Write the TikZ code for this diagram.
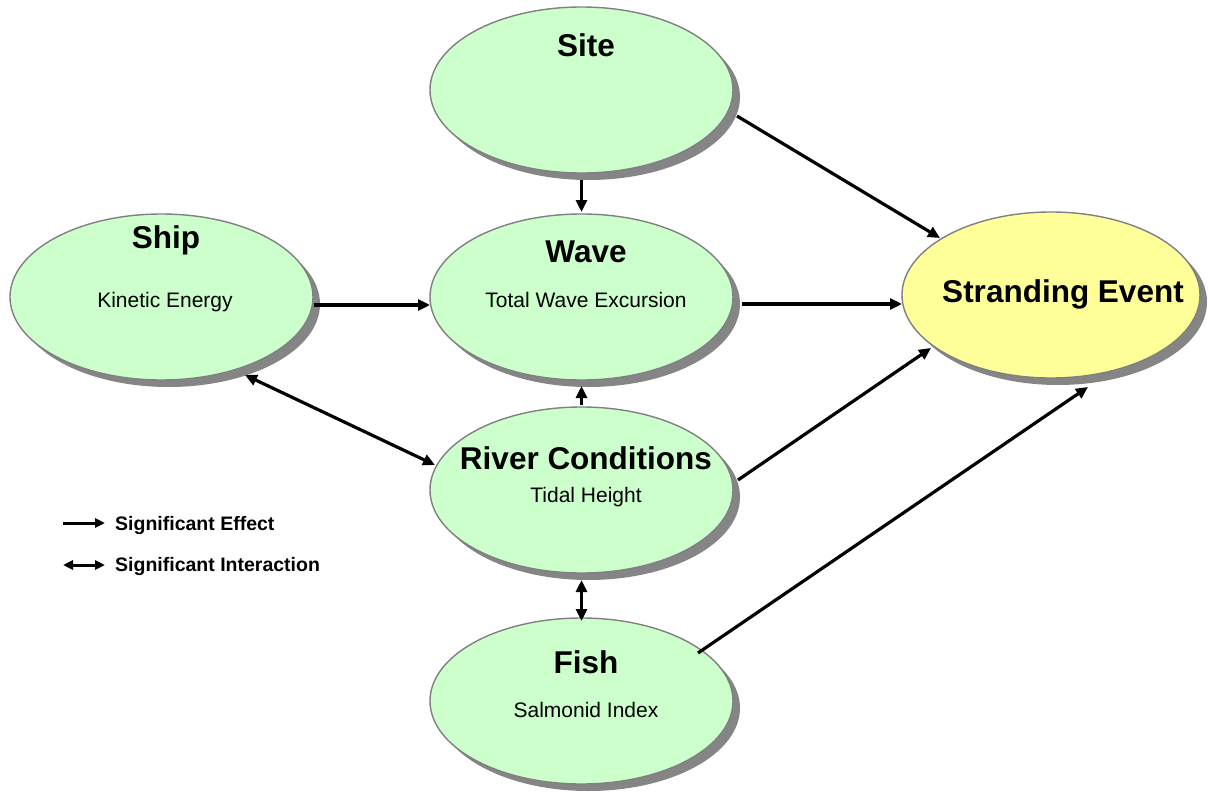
\documentclass[tikz,border=0pt]{standalone}
\usepackage{fontspec}
\setmainfont{Liberation Sans}
\usetikzlibrary{shapes.geometric,shadows,arrows.meta,calc}
\definecolor{nodegreen}{HTML}{CCFFCC}
\definecolor{nodeyellow}{HTML}{FFFF99}
\definecolor{rimgray}{HTML}{808080}
\definecolor{shadegray}{HTML}{858585}
\tikzset{
  oval/.style={ellipse, draw=rimgray, line width=1.4pt, fill=nodegreen,
    minimum width=303pt, minimum height=166pt, inner sep=0pt,
    drop shadow={shadow xshift=7pt, shadow yshift=-7pt, fill=shadegray, opacity=1}},
  goal/.style={oval, fill=nodeyellow, minimum width=298pt},
  title/.style={anchor=base, inner sep=0pt, font=\fontsize{31.5}{36}\selectfont\bfseries},
  sub/.style={anchor=base, inner sep=0pt, font=\fontsize{21}{25}\selectfont},
  legtext/.style={anchor=base west, inner sep=0pt, font=\fontsize{19.5}{23}\selectfont\bfseries},
  eff/.style={line width=3.2pt, -{Triangle[length=12pt,width=11pt]}},
  inter/.style={line width=3.2pt, {Triangle[length=12pt,width=11pt]}-{Triangle[length=12pt,width=11pt]}},
  legeff/.style={line width=3pt, -{Triangle[length=10pt,width=9pt]}},
  leginter/.style={line width=3pt, {Triangle[length=10pt,width=9pt]}-{Triangle[length=10pt,width=9pt]}}
}
\begin{document}
\begin{tikzpicture}[x=1pt, y=-1pt]
\useasboundingbox (0,0) rectangle (1208,797);
% ellipses
\node[oval] (site) at (581.5,90) {};
\node[oval] (wave) at (581.5,297) {};
\node[oval] (ship) at (161.5,297) {};
\node[oval] (river) at (581.5,490) {};
\node[oval] (fish) at (581.5,701) {};
\node[goal] (strand) at (1051,295) {};
% texts
\node[title] (siteT) at (586,57) {Site};
\node[title] (shipT) at (166,248) {Ship};
\node[sub] (shipS) at (165,307) {Kinetic Energy};
\node[title] (waveT) at (586,262) {Wave};
\node[sub] (waveS) at (586,307.5) {Total Wave Excursion};
\node[title] (riverT) at (586,469) {River Conditions};
\node[sub] (riverS) at (586,502) {Tidal Height};
\node[title] (fishT) at (586,673) {Fish};
\node[sub] (fishS) at (586,717) {Salmonid Index};
\node[title] (strandT) at (1063,302) {Stranding Event};
% connectors
\draw[eff] ($(site)+(0,90)$) -- ($(wave)+(0,-85)$);
\draw[eff] ($(ship)+(152.5,8)$) -- ($(wave)+(-151.5,8)$);
\draw[eff] ($(wave)+(160.5,7)$) -- ($(strand)+(-149,9)$);
\draw[eff] ($(site)+(155.5,26)$) -- ($(strand)+(-111,-57)$);
\draw[eff] ($(river)+(0,-85)$) -- ($(wave)+(0,89)$);
\draw[inter] ($(ship)+(83.5,78)$) -- ($(river)+(-146.5,-25)$);
\draw[eff] ($(river)+(156.5,-10)$) -- ($(strand)+(-120,53)$);
\draw[inter] ($(river)+(0,90)$) -- ($(fish)+(0,-80)$);
\draw[eff] ($(fish)+(116.5,-48)$) -- ($(strand)+(37,92)$);
% legend
\node[legtext] (legE) at (115,530) {Significant Effect};
\node[legtext] (legI) at (115,571) {Significant Interaction};
\coordinate (legEa) at (63,523);
\coordinate (legEb) at (105,523);
\coordinate (legIa) at (63,565);
\coordinate (legIb) at (105,565);
\draw[legeff] (legEa) -- (legEb);
\draw[leginter] (legIa) -- (legIb);
\end{tikzpicture}
\end{document}
